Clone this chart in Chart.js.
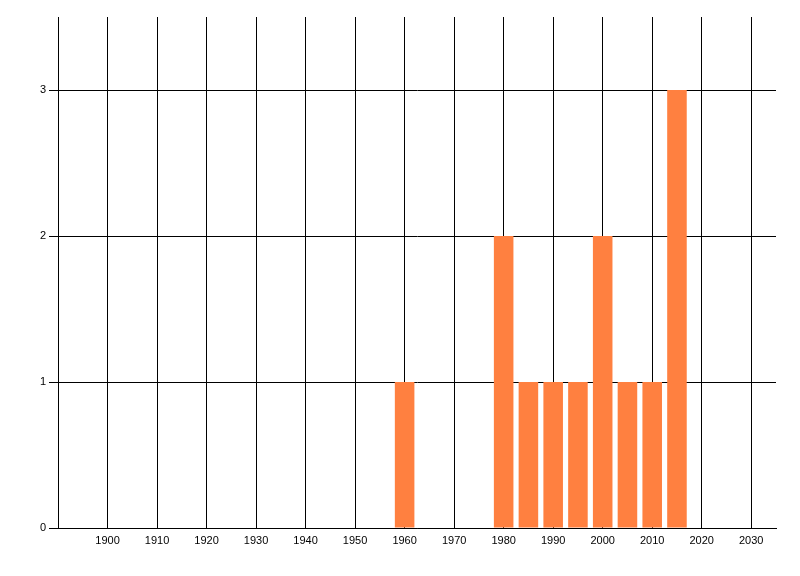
<!DOCTYPE html>
<html>
<head>
<meta charset="utf-8">
<script src="https://cdn.jsdelivr.net/npm/chart.js@4"></script>
<style>
  body { margin: 0; background: #fff; }
</style>
</head>
<body>
<canvas id="chart" width="800" height="576"></canvas>
<script>
// values
years = [1960, 1980, 1985, 1990, 1995, 2000, 2005, 2010, 2015];
counts = [1, 2, 1, 1, 1, 2, 1, 1, 3];

xTicks = [1900, 1910, 1920, 1930, 1940, 1950, 1960, 1970, 1980, 1990, 2000, 2010, 2020, 2030];
yTicks = [0, 1, 2, 3];

points = [];
for (var i = 0; i < years.length; i++) {
    points.push({x: years[i], y: counts[i]});
}

new Chart("chart", {
    type: "bar",
    data: {
        datasets: [{
            data: points,
            backgroundColor: "rgb(255,128,64)",
            barPercentage: 0.79,
            categoryPercentage: 1
        }]
    },
    options: {
        responsive: false,
        animation: false,
        layout: { padding: { top: 17, right: 24, left: 0, bottom: 0 } },
        plugins: { legend: { display: false }, tooltip: { enabled: false } },
        scales: {
            x: {
                type: "linear",
                offset: false,
                min: 1890,
                max: 2035,
                afterBuildTicks: function (scale) {
                    scale.ticks = xTicks.map(function (v) { return {value: v}; });
                },
                afterFit: function (scale) { scale.height = 48; },
                grid: { offset: false, color: "#000", lineWidth: 1, tickLength: 0 },
                border: { color: "#000", width: 1 },
                ticks: {
                    color: "#000",
                    padding: 6,
                    maxRotation: 0,
                    autoSkip: false,
                    font: { family: "Liberation Sans", size: 11 },
                    callback: function (v) { return String(v); }
                }
            },
            y: {
                min: 0,
                max: 3.5,
                afterBuildTicks: function (scale) {
                    scale.ticks = yTicks.map(function (v) { return {value: v}; });
                },
                afterFit: function (scale) { scale.width = 58; },
                grid: { color: "#000", lineWidth: 1, tickLength: 9 },
                border: { color: "#000", width: 1 },
                ticks: {
                    color: "#000",
                    padding: 3,
                    font: { family: "Liberation Sans", size: 11 },
                    callback: function (v) { return String(v); }
                }
            }
        }
    }
});
</script>
</body>
</html>
